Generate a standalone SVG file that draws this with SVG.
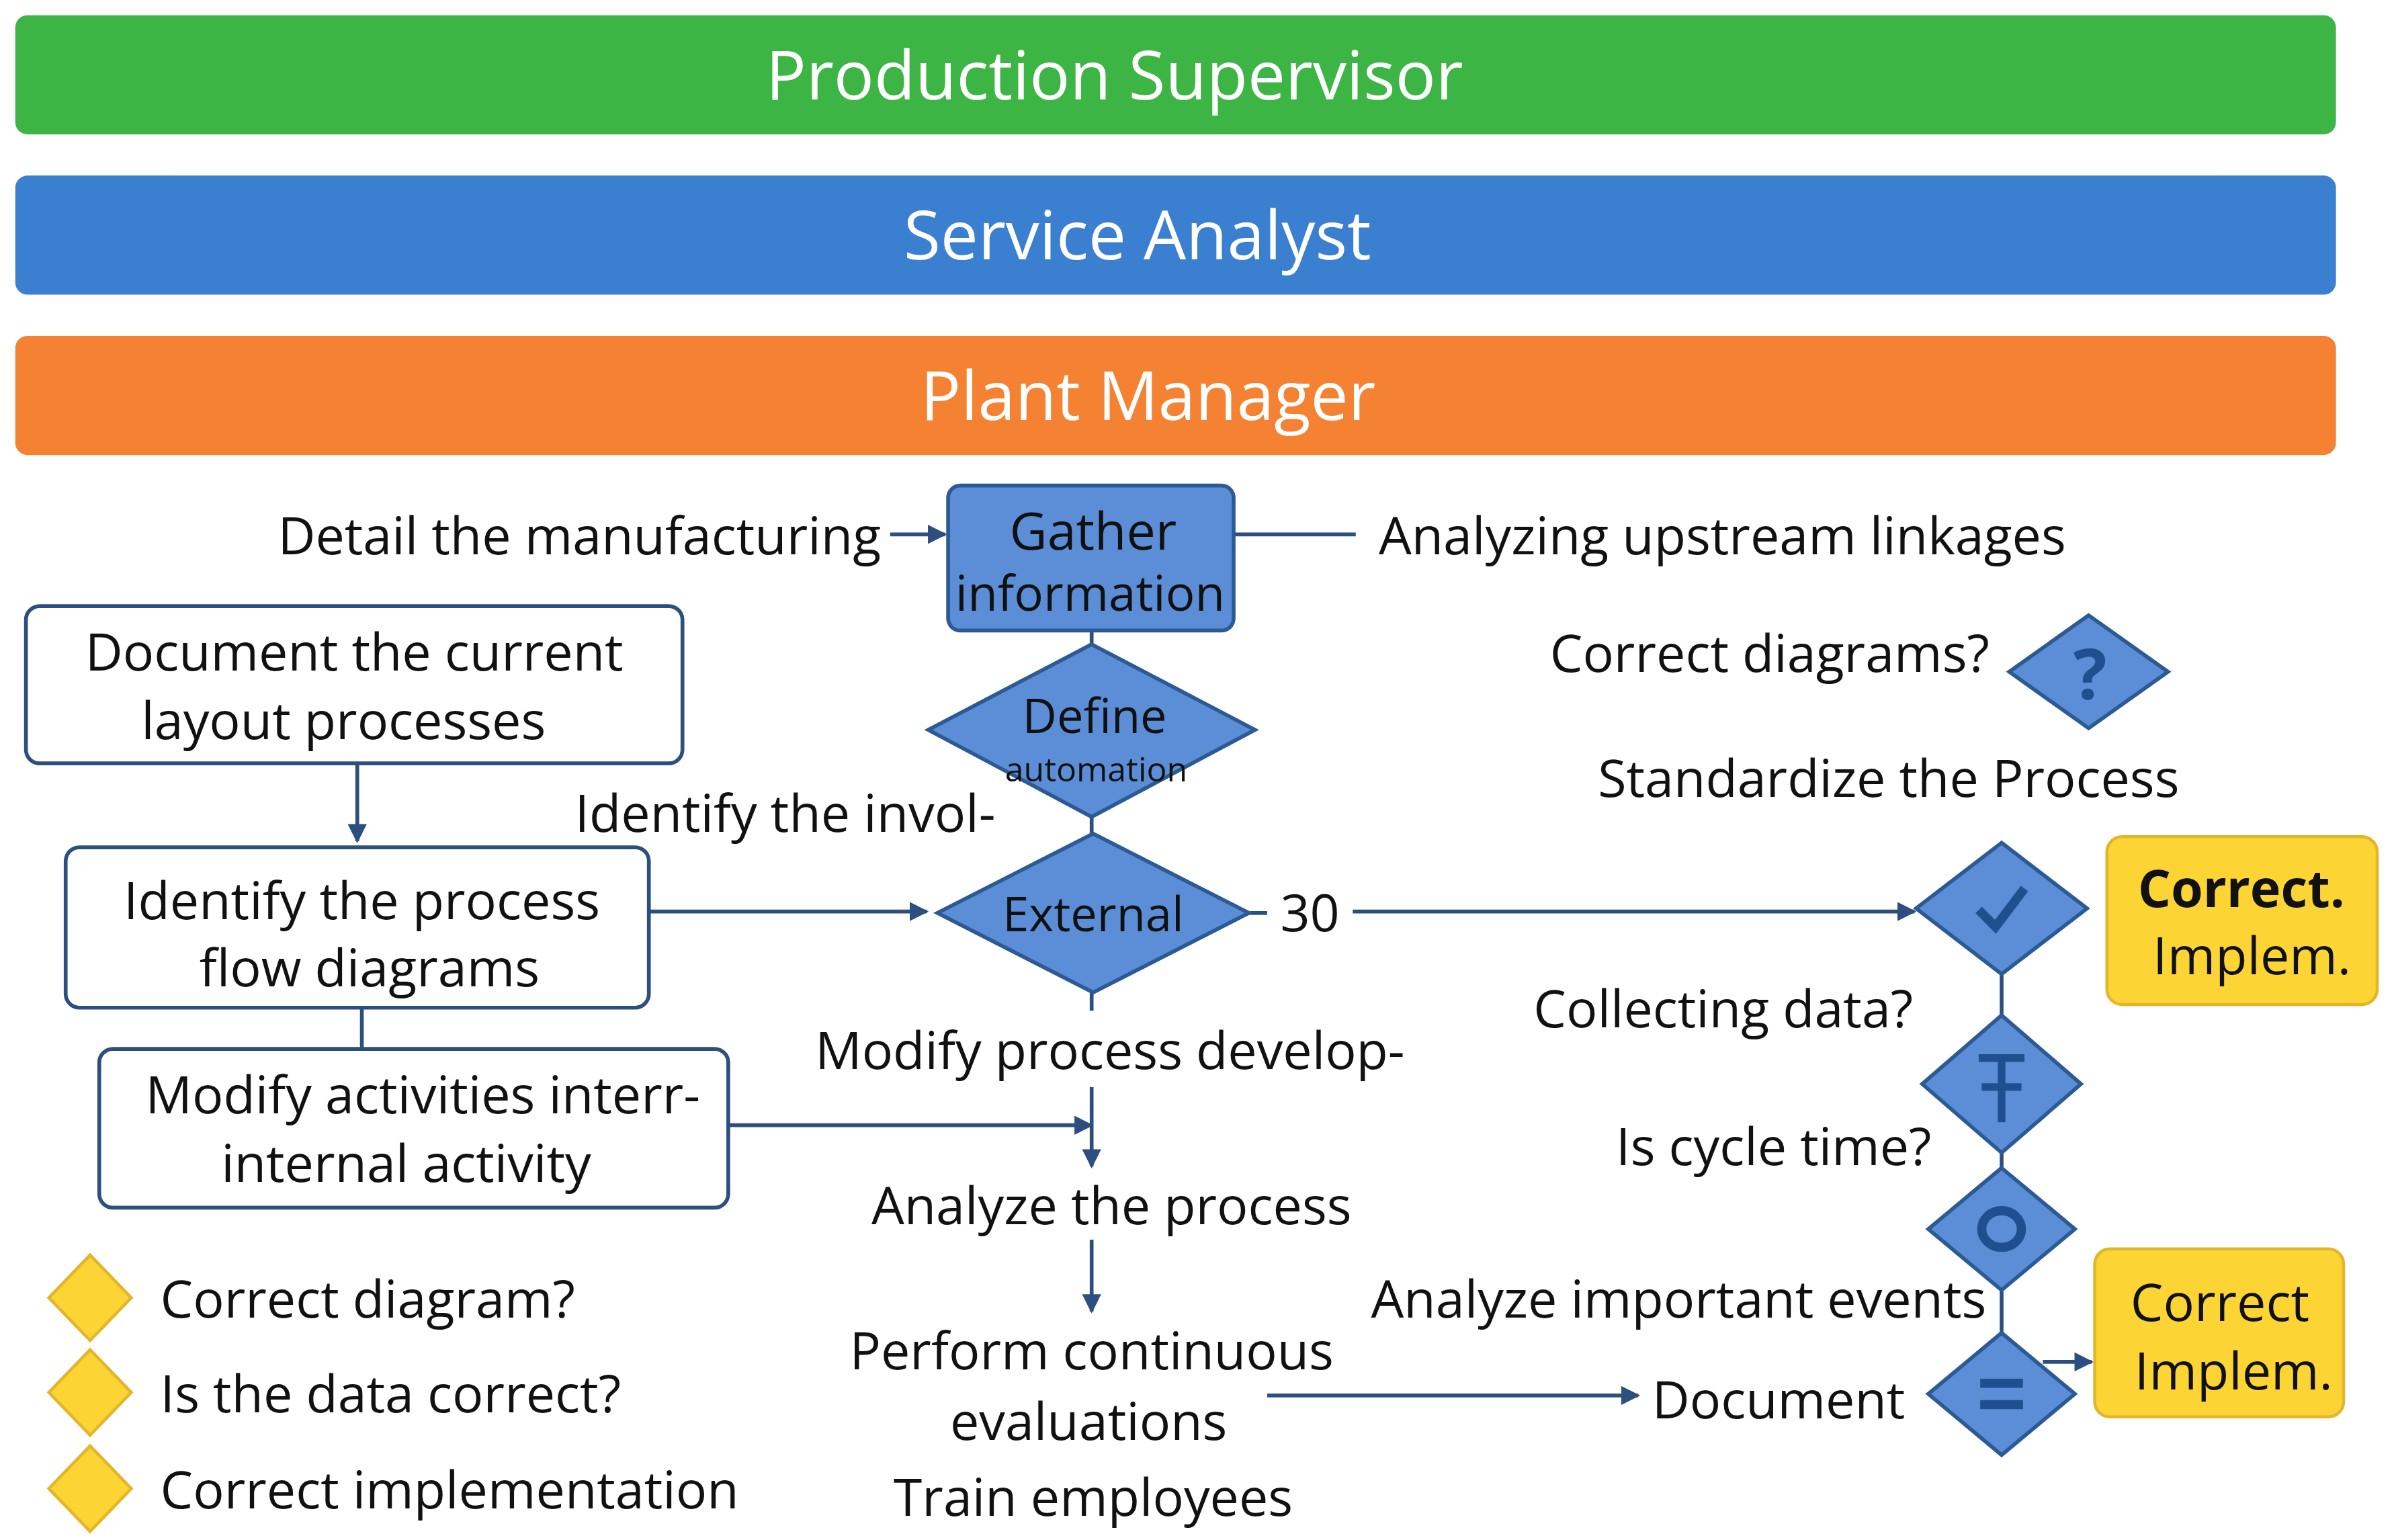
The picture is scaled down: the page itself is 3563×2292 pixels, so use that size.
<svg xmlns="http://www.w3.org/2000/svg" width="3563" height="2292" viewBox="0 0 3563 2292">
<style>
text{font-family:"Open Sans","Liberation Sans",sans-serif;fill:#111}
.t{font-size:34px}
.c{text-anchor:middle}
.e{text-anchor:end}
.bar{font-size:44px;fill:#fff;text-anchor:middle}
.box{fill:#fff;stroke:#2c4f80;stroke-width:2.5}
.bd{fill:#5b8ed6;stroke:#2c5a95;stroke-width:2.5}
.yl{fill:#fcd535;stroke:#e3b52a;stroke-width:2}
.ln{stroke:#2c4f80;stroke-width:2.5;fill:none}
.ic{fill:none;stroke:#1f4f8f;stroke-width:6}
</style>
<defs><marker id="a" viewBox="0 0 10 10" refX="9" refY="5" markerWidth="5" markerHeight="5" orient="auto"><path d="M0,0L10,5L0,10z" fill="#2c4f80"/></marker></defs>
<rect width="3563" height="2292" fill="#fff"/>
<g transform="scale(2.2723)">
<g id="lane1"><rect x="10" y="10" width="1520" height="78" rx="8" fill="#3db545"/><text class="bar" x="730" y="65">Production Supervisor</text></g>
<g id="lane2"><rect x="10" y="115" width="1520" height="78" rx="8" fill="#3a7fd0"/><text class="bar" x="745" y="170">Service Analyst</text></g>
<g id="lane3"><rect x="10" y="220" width="1520" height="78" rx="8" fill="#f58232"/><text class="bar" x="752" y="275">Plant Manager</text></g>
<g id="connectors">
<path class="ln" d="M583,350H619" marker-end="url(#a)"/>
<path class="ln" d="M808,350H888"/>
<path class="ln" d="M715,413V422M715,535V546"/>
<path class="ln" d="M234,500V551" marker-end="url(#a)"/>
<path class="ln" d="M425,597H607" marker-end="url(#a)"/>
<path class="ln" d="M818,598H830"/>
<path class="ln" d="M886,597H1254" marker-end="url(#a)"/>
<path class="ln" d="M715,650V662"/>
<path class="ln" d="M237,660V687"/>
<path class="ln" d="M477,737H715" marker-end="url(#a)"/>
<path class="ln" d="M715,712V764" marker-end="url(#a)"/>
<path class="ln" d="M715,812V859" marker-end="url(#a)"/>
<path class="ln" d="M830,914H1073" marker-end="url(#a)"/>
<path class="ln" d="M1311,638V873"/>
<path class="ln" d="M1338,892H1370" marker-end="url(#a)"/>
</g>
<g id="detail"><text class="t e" x="577" y="363">Detail the manufacturing</text></g>
<g id="gather"><rect class="bd" x="621" y="318" width="187" height="95" rx="8"/><text class="t c" x="716" y="360">Gather</text><text class="t c" x="714" y="400" style="font-size:32px">information</text></g>
<g id="upstream"><text class="t" x="903" y="363">Analyzing upstream linkages</text></g>
<g id="document"><rect class="box" x="17" y="397" width="430" height="103" rx="9"/><text class="t c" x="232" y="439">Document the current</text><text class="t c" x="225" y="484">layout processes</text></g>
<g id="define"><path class="bd" d="M715,422L822,478L715,535L608,478z"/><text class="t c" x="717" y="480" style="font-size:31px">Define</text><text class="c" x="718" y="512" style="font-size:22px">automation</text></g>
<g id="invol"><text class="t e" x="652" y="545">Identify the invol-</text></g>
<g id="external"><path class="bd" d="M716,546L818,598L716,650L614,598z"/><text class="t c" x="716" y="610" style="font-size:31px">External</text></g>
<g id="identify"><rect class="box" x="43" y="555" width="382" height="105" rx="9"/><text class="t c" x="237" y="602">Identify the process</text><text class="t c" x="242" y="646">flow diagrams</text></g>
<g id="l30"><text class="t c" x="858" y="610">30</text></g>
<g id="cdiag"><text class="t e" x="1303" y="440">Correct diagrams?</text><path class="bd" d="M1368,403L1420,440L1368,477L1316,440z"/><text x="1369" y="458" class="c" style="font-size:46px;font-weight:bold;fill:#1f4f8f">?</text></g>
<g id="standard"><text class="t c" x="1237" y="522">Standardize the Process</text></g>
<g id="check"><path class="bd" d="M1311,552L1367,595L1311,638L1255,595z"/><path class="ic" d="M1296,596L1307,607L1326,582"/></g>
<g id="impl1"><rect class="yl" x="1380" y="548" width="177" height="110" rx="10"/><text class="t c" x="1468" y="594" style="font-weight:bold">Correct.</text><text class="t c" x="1475" y="638">Implem.</text></g>
<g id="collect"><text class="t e" x="1253" y="673">Collecting data?</text></g>
<g id="d2"><path class="bd" d="M1311,665L1363,710L1311,755L1259,710z"/><path class="ic" d="M1296,693H1326M1311,693V735M1298,712H1324" style="stroke-width:5"/></g>
<g id="cycle"><text class="t e" x="1265" y="763">Is cycle time?</text></g>
<g id="d3"><path class="bd" d="M1311,765L1359,805L1311,845L1263,805z"/><ellipse class="ic" cx="1311" cy="805" rx="13" ry="12"/></g>
<g id="events"><text class="t" x="898" y="863">Analyze important events</text></g>
<g id="d4"><path class="bd" d="M1311,873L1359,913L1311,953L1263,913z"/><path class="ic" d="M1297,906H1325M1297,920H1325"/></g>
<g id="impl2"><rect class="yl" x="1372" y="818" width="163" height="110" rx="10"/><text class="t c" x="1454" y="865">Correct</text><text class="t c" x="1463" y="910">Implem.</text></g>
<g id="doc"><text class="t" x="1082" y="929">Document</text></g>
<g id="modproc"><text class="t c" x="727" y="700">Modify process develop-</text></g>
<g id="modact"><rect class="box" x="65" y="687" width="412" height="104" rx="9"/><text class="t c" x="277" y="729">Modify activities interr-</text><text class="t c" x="266" y="774">internal activity</text></g>
<g id="analyze"><text class="t c" x="728" y="802">Analyze the process</text></g>
<g id="perform"><text class="t c" x="715" y="897">Perform continuous</text><text class="t c" x="713" y="943">evaluations</text><text class="t c" x="716" y="993">Train employees</text></g>
<g id="legend">
<path class="yl" d="M59,822L86,850L59,878L32,850z"/><text class="t" x="105" y="863">Correct diagram?</text>
<path class="yl" d="M59,884L86,912L59,940L32,912z"/><text class="t" x="105" y="925">Is the data correct?</text>
<path class="yl" d="M59,947L86,975L59,1003L32,975z"/><text class="t" x="105" y="988">Correct implementation</text>
</g>
</g>
</svg>
